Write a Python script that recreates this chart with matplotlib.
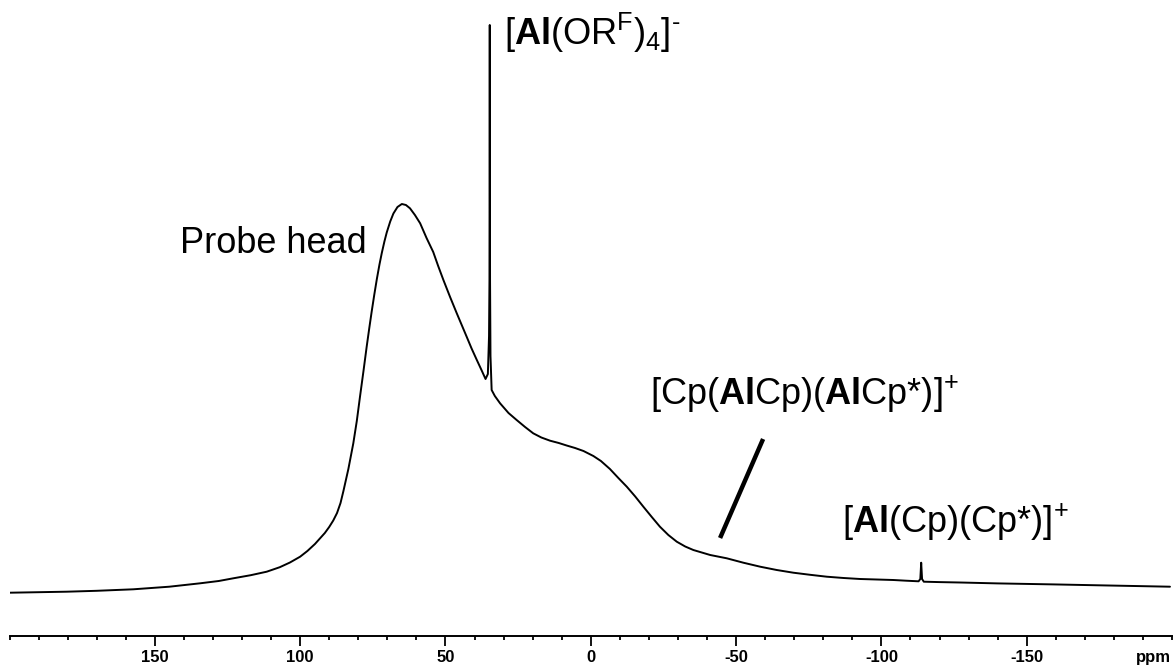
import matplotlib
matplotlib.use("Agg")
import matplotlib.pyplot as plt
from matplotlib.ticker import FixedLocator, MultipleLocator

# 27Al NMR trace: chemical shift (ppm) and intensity (arbitrary units)
shift_ppm = [
    199.8, 190.0, 180.3, 170.0, 157.4, 145.0, 134.4, 128.0, 123.0, 117.0,
    111.5, 107.0, 103.5, 100.0, 97.5, 94.9, 93.2, 91.5, 90.0, 88.6,
    87.3, 86.1, 85.1, 83.4, 81.7, 80.5, 79.4, 78.2, 77.1, 76.2,
    75.4, 74.5, 73.6, 72.7, 71.9, 71.0, 70.2, 69.0, 67.9, 66.5,
    65.0, 63.6, 62.2, 60.5, 58.7, 56.5, 54.2, 52.5, 50.7, 48.4,
    46.1, 44.4, 42.7, 41.0, 39.2, 37.6, 36.2, 35.4, 35.0, 34.85,
    34.75, 34.65, 34.5, 34.1, 33.0, 31.2, 28.3, 25.5, 22.6, 19.8,
    17.0, 14.0, 11.0, 8.3, 5.4, 2.5, -0.9, -3.5, -6.6, -9.5,
    -12.4, -15.3, -18.1, -21.0, -23.8, -26.7, -29.6, -32.5, -35.3, -41.1,
    -46.8, -52.5, -58.3, -64.0, -69.7, -75.5, -81.2, -87.0, -92.7, -98.4,
    -104.1, -108.5, -112.8, -113.4, -113.7, -114.0, -114.6, -120.0, -127.1, -140.0,
    -159.2, -176.4, -199.3,
]
intensity = [
    43.3, 43.8, 44.3, 45.2, 46.7, 49.3, 52.7, 55.0, 57.7, 60.8,
    64.3, 68.8, 73.5, 79.3, 85.0, 92.0, 97.5, 103.0, 109.0, 115.5,
    123.0, 133.0, 145.0, 167.0, 192.7, 215.0, 239.3, 265.0, 289.3, 308.0,
    324.0, 341.0, 357.0, 371.5, 383.0, 394.5, 403.5, 414.5, 422.5, 429.0,
    432.0, 431.0, 427.7, 421.0, 412.7, 398.0, 384.0, 370.0, 356.0, 339.0,
    322.7, 311.0, 299.3, 287.5, 276.0, 266.0, 257.0, 262.0, 300.0, 356.0,
    611.0, 356.0, 280.0, 246.0, 240.0, 232.7, 223.0, 216.0, 209.0, 202.7,
    198.5, 195.3, 193.0, 190.5, 188.0, 185.0, 180.0, 175.0, 167.0, 158.0,
    149.3, 139.5, 129.3, 119.0, 109.3, 101.0, 94.3, 89.5, 86.0, 81.0,
    77.7, 73.3, 69.3, 66.0, 63.3, 61.2, 59.3, 58.0, 57.0, 56.5,
    56.0, 55.3, 54.7, 57.0, 73.3, 57.0, 54.3, 53.9, 53.5, 52.6,
    51.6, 50.6, 49.3,
]

major_ticks = [150, 100, 50, 0, -50, -100, -150]
tick_labels = ["150", "100", "50", "0", "-50", "-100", "-150"]
axis_unit = "ppm"

# Signal assignments: (text, shift, intensity) of the text's left baseline
assignments = [
    ("Probe head", 141.2, 383),
    (r"[$\mathbf{Al}$(OR$^{\mathrm{F}}$)$_{4}$]$^{\text{-}}$", 29.9, 591),
    (r"[Cp($\mathbf{Al}$Cp)($\mathbf{Al}$Cp*)]$^{+}$", -20.4, 231),
    (r"[$\mathbf{Al}$(Cp)(Cp*)]$^{+}$", -86.6, 103),
]
# Pointer line drawn under the dinuclear cation label
pointer_ppm = [-44.5, -59.3]
pointer_int = [98, 197]

plt.rcParams["font.family"] = ["Liberation Sans", "DejaVu Sans"]
plt.rcParams["mathtext.fontset"] = "custom"
plt.rcParams["mathtext.rm"] = "Liberation Sans"
plt.rcParams["mathtext.bf"] = "Liberation Sans:bold"
plt.rcParams["mathtext.it"] = "Liberation Sans:italic"

W, H = 1176, 666
fig = plt.figure(figsize=(W / 100, H / 100), dpi=100)
ax = fig.add_axes([9.5 / W, 30 / H, (1172 - 9.5) / W, 636 / H])

ax.plot(shift_ppm, intensity, color="black", lw=1.4,
        solid_joinstyle="round", solid_capstyle="round")
ax.plot(pointer_ppm, pointer_int, color="black", lw=3.2, solid_capstyle="butt")

for text, x, y in assignments:
    ax.text(x, y, text, fontsize=26, ha="left", va="baseline", color="black")

ax.set_xlim(200, -200)
ax.set_ylim(0, 636)

for side in ("left", "right", "top"):
    ax.spines[side].set_visible(False)
ax.spines["bottom"].set_linewidth(1.4)
ax.set_yticks([])

ax.xaxis.set_major_locator(FixedLocator(major_ticks))
ax.xaxis.set_minor_locator(MultipleLocator(10))
ax.set_xticklabels(tick_labels, fontsize=12, fontweight="bold")
ax.tick_params(axis="x", which="major", direction="out", length=7, width=1.3, pad=3)
ax.tick_params(axis="x", which="minor", direction="out", length=3, width=1.3)

ax.annotate(axis_unit, xy=(-193.5, 0), xycoords=("data", "axes fraction"),
            xytext=(0, -10), textcoords="offset points", ha="center", va="top",
            fontsize=12, fontweight="bold")

fig.savefig("out.png", dpi=100, facecolor="white")
